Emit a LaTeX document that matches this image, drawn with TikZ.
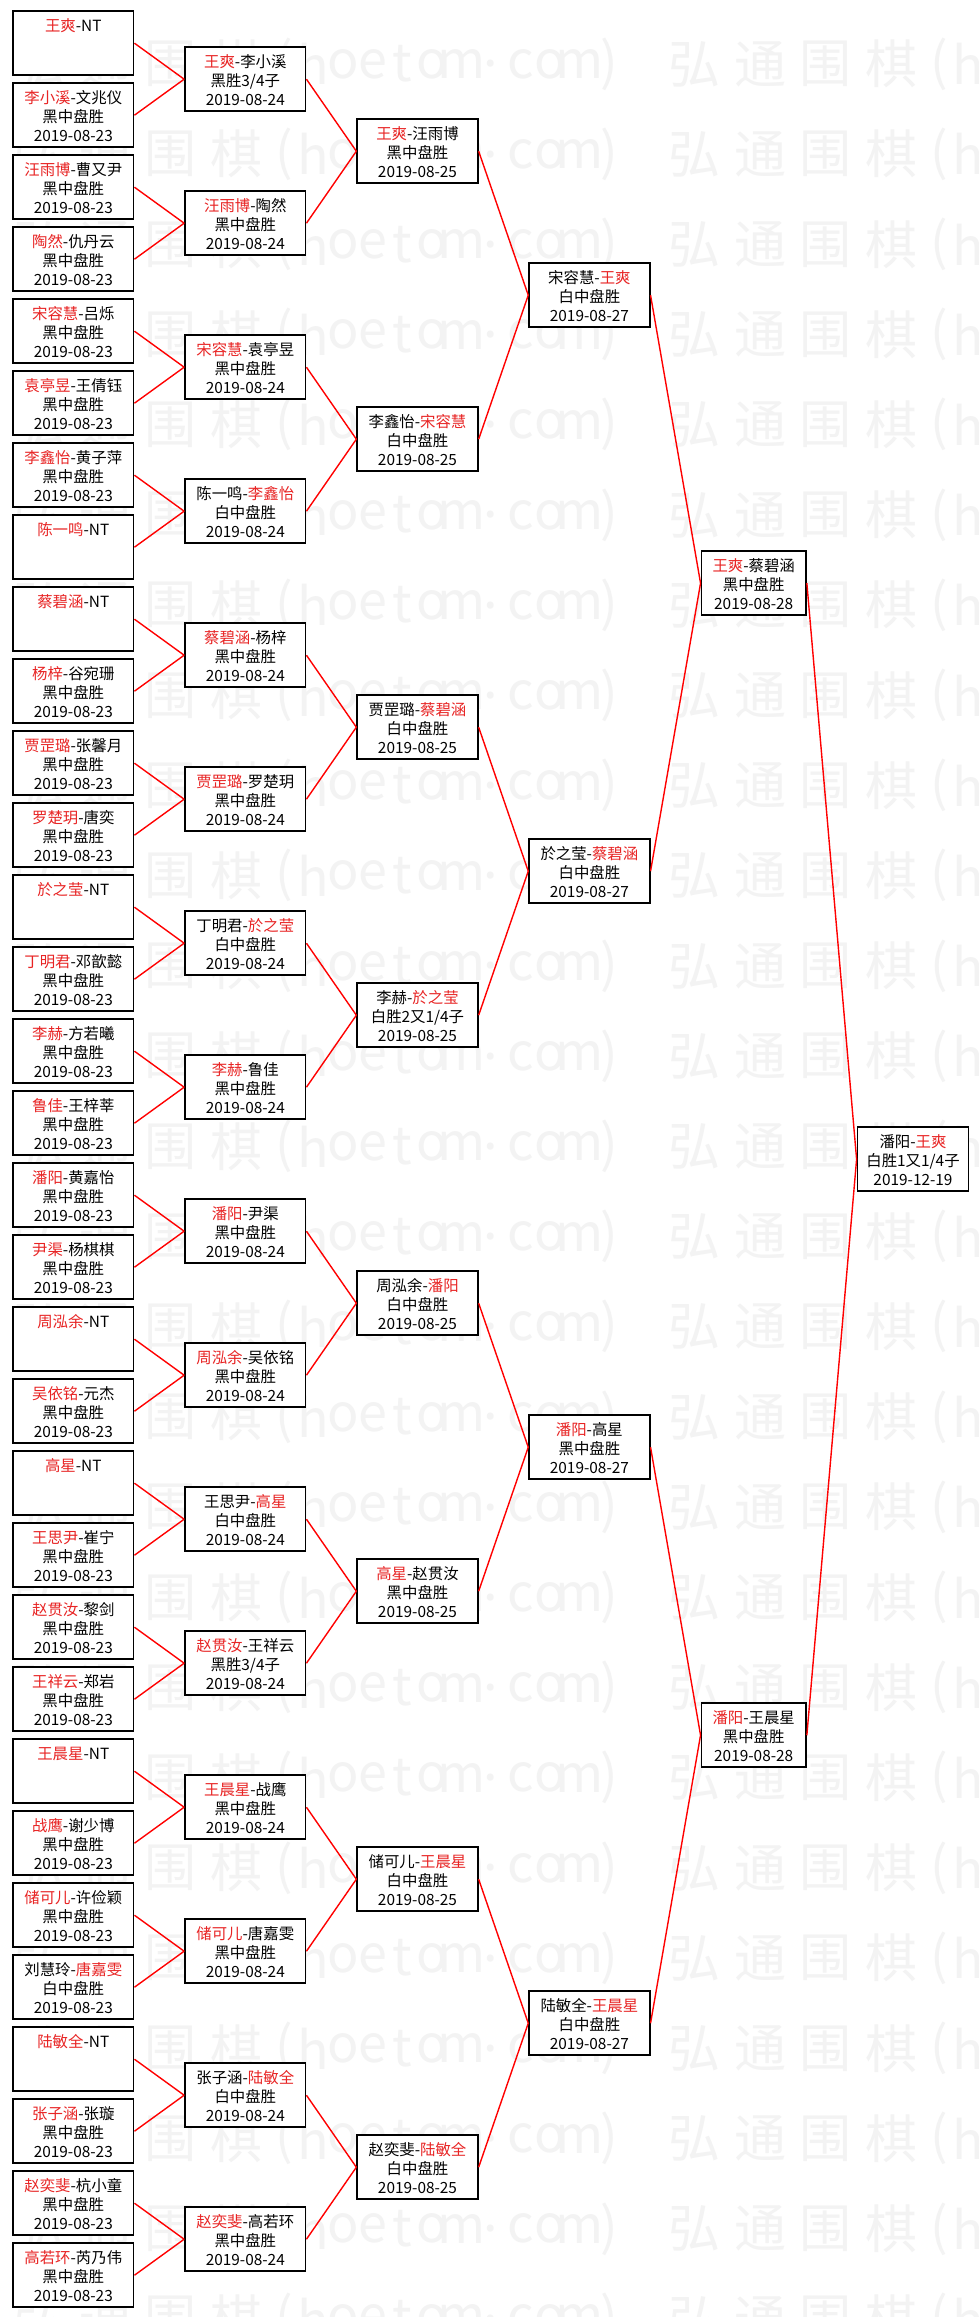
\documentclass[tikz,border=0pt]{standalone}
\usepackage{fontspec}
\setmainfont{Noto Sans CJK SC}
\newfontfamily\markfont{Noto Sans CJK SC}
\usepackage{tikz}

\definecolor{winred}{RGB}{232,36,36}
\definecolor{markgray}{RGB}{243,243,243}

\newcommand{\winner}[1]{\textcolor{winred}{#1}}
\newcommand{\game}[3]{\rule{0pt}{20pt}#1\\#2\\#3\strut}
\newcommand{\bye}[1]{\game{\winner{#1}-NT}{}{}}

\tikzset{
  game/.style={draw=black, line width=1.8pt, fill=white, minimum width=120.5pt,
    minimum height=64pt, inner sep=0pt, align=center,
    font=\fontsize{15.4}{18.7}\selectfont},
  link/.style={draw=red, line width=1.4pt},
  stamp/.style={text=markgray, inner sep=0pt, font=\markfont\fontsize{52}{52}\selectfont}
}

\begin{document}
\begin{tikzpicture}[x=1pt, y=-1pt]

\useasboundingbox (0,0) rectangle (979,2317);
\fill[white] (0,0) rectangle (979,2317);

% Watermark rows
\begin{scope}
\clip (0,0) rectangle (979,2317);
\foreach \row in {0,...,25} {
  \foreach \xs in {7,662} {
    \foreach \ch [count=\i from 0] in {弘,通,围,棋}
      \node[stamp] at (\xs+32.75+65.5*\i, 64+90.2*\row) {\ch};
    \foreach \ch [count=\j from 0] in {{(},h,o,e,t,o,m,{.},c,o,m,{)}}
      \node[stamp] at (\xs+276.8+29.6*\j, 64+90.2*\row) {\ch};
  }
}
\end{scope}

% Round 1
\node[game] (a1)  at (73.3,43.2)   {\bye{王爽}};
\node[game] (a2)  at (73.3,115.2)  {\game{\winner{李小溪}-文兆仪}{黑中盘胜}{2019-08-23}};
\node[game] (a3)  at (73.3,187.2)  {\game{\winner{汪雨博}-曹又尹}{黑中盘胜}{2019-08-23}};
\node[game] (a4)  at (73.3,259.2)  {\game{\winner{陶然}-仇丹云}{黑中盘胜}{2019-08-23}};
\node[game] (a5)  at (73.3,331.2)  {\game{\winner{宋容慧}-吕烁}{黑中盘胜}{2019-08-23}};
\node[game] (a6)  at (73.3,403.2)  {\game{\winner{袁亭昱}-王倩钰}{黑中盘胜}{2019-08-23}};
\node[game] (a7)  at (73.3,475.2)  {\game{\winner{李鑫怡}-黄子萍}{黑中盘胜}{2019-08-23}};
\node[game] (a8)  at (73.3,547.2)  {\bye{陈一鸣}};
\node[game] (a9)  at (73.3,619.2)  {\bye{蔡碧涵}};
\node[game] (a10) at (73.3,691.2)  {\game{\winner{杨梓}-谷宛珊}{黑中盘胜}{2019-08-23}};
\node[game] (a11) at (73.3,763.2)  {\game{\winner{贾罡璐}-张馨月}{黑中盘胜}{2019-08-23}};
\node[game] (a12) at (73.3,835.2)  {\game{\winner{罗楚玥}-唐奕}{黑中盘胜}{2019-08-23}};
\node[game] (a13) at (73.3,907.2)  {\bye{於之莹}};
\node[game] (a14) at (73.3,979.2)  {\game{\winner{丁明君}-邓歆懿}{黑中盘胜}{2019-08-23}};
\node[game] (a15) at (73.3,1051.2) {\game{\winner{李赫}-方若曦}{黑中盘胜}{2019-08-23}};
\node[game] (a16) at (73.3,1123.2) {\game{\winner{鲁佳}-王梓莘}{黑中盘胜}{2019-08-23}};
\node[game] (a17) at (73.3,1195.2) {\game{\winner{潘阳}-黄嘉怡}{黑中盘胜}{2019-08-23}};
\node[game] (a18) at (73.3,1267.2) {\game{\winner{尹渠}-杨棋棋}{黑中盘胜}{2019-08-23}};
\node[game] (a19) at (73.3,1339.2) {\bye{周泓余}};
\node[game] (a20) at (73.3,1411.2) {\game{\winner{吴依铭}-元杰}{黑中盘胜}{2019-08-23}};
\node[game] (a21) at (73.3,1483.2) {\bye{高星}};
\node[game] (a22) at (73.3,1555.2) {\game{\winner{王思尹}-崔宁}{黑中盘胜}{2019-08-23}};
\node[game] (a23) at (73.3,1627.2) {\game{\winner{赵贯汝}-黎剑}{黑中盘胜}{2019-08-23}};
\node[game] (a24) at (73.3,1699.2) {\game{\winner{王祥云}-郑岩}{黑中盘胜}{2019-08-23}};
\node[game] (a25) at (73.3,1771.2) {\bye{王晨星}};
\node[game] (a26) at (73.3,1843.2) {\game{\winner{战鹰}-谢少博}{黑中盘胜}{2019-08-23}};
\node[game] (a27) at (73.3,1915.2) {\game{\winner{储可儿}-许俭颖}{黑中盘胜}{2019-08-23}};
\node[game] (a28) at (73.3,1987.2) {\game{刘慧玲-\winner{唐嘉雯}}{白中盘胜}{2019-08-23}};
\node[game] (a29) at (73.3,2059.2) {\bye{陆敏全}};
\node[game] (a30) at (73.3,2131.2) {\game{\winner{张子涵}-张璇}{黑中盘胜}{2019-08-23}};
\node[game] (a31) at (73.3,2203.2) {\game{\winner{赵奕斐}-杭小童}{黑中盘胜}{2019-08-23}};
\node[game] (a32) at (73.3,2275.2) {\game{\winner{高若环}-芮乃伟}{黑中盘胜}{2019-08-23}};

% Round 2
\node[game] (b1)  at (245.3,79.2)   {\game{\winner{王爽}-李小溪}{黑胜3/4子}{2019-08-24}};
\node[game] (b2)  at (245.3,223.2)  {\game{\winner{汪雨博}-陶然}{黑中盘胜}{2019-08-24}};
\node[game] (b3)  at (245.3,367.2)  {\game{\winner{宋容慧}-袁亭昱}{黑中盘胜}{2019-08-24}};
\node[game] (b4)  at (245.3,511.2)  {\game{陈一鸣-\winner{李鑫怡}}{白中盘胜}{2019-08-24}};
\node[game] (b5)  at (245.3,655.2)  {\game{\winner{蔡碧涵}-杨梓}{黑中盘胜}{2019-08-24}};
\node[game] (b6)  at (245.3,799.2)  {\game{\winner{贾罡璐}-罗楚玥}{黑中盘胜}{2019-08-24}};
\node[game] (b7)  at (245.3,943.2)  {\game{丁明君-\winner{於之莹}}{白中盘胜}{2019-08-24}};
\node[game] (b8)  at (245.3,1087.2) {\game{\winner{李赫}-鲁佳}{黑中盘胜}{2019-08-24}};
\node[game] (b9)  at (245.3,1231.2) {\game{\winner{潘阳}-尹渠}{黑中盘胜}{2019-08-24}};
\node[game] (b10) at (245.3,1375.2) {\game{\winner{周泓余}-吴依铭}{黑中盘胜}{2019-08-24}};
\node[game] (b11) at (245.3,1519.2) {\game{王思尹-\winner{高星}}{白中盘胜}{2019-08-24}};
\node[game] (b12) at (245.3,1663.2) {\game{\winner{赵贯汝}-王祥云}{黑胜3/4子}{2019-08-24}};
\node[game] (b13) at (245.3,1807.2) {\game{\winner{王晨星}-战鹰}{黑中盘胜}{2019-08-24}};
\node[game] (b14) at (245.3,1951.2) {\game{\winner{储可儿}-唐嘉雯}{黑中盘胜}{2019-08-24}};
\node[game] (b15) at (245.3,2095.2) {\game{张子涵-\winner{陆敏全}}{白中盘胜}{2019-08-24}};
\node[game] (b16) at (245.3,2239.2) {\game{\winner{赵奕斐}-高若环}{黑中盘胜}{2019-08-24}};

% Round 3
\node[game] (c1) at (417.5,151.2)  {\game{\winner{王爽}-汪雨博}{黑中盘胜}{2019-08-25}};
\node[game] (c2) at (417.5,439.2)  {\game{李鑫怡-\winner{宋容慧}}{白中盘胜}{2019-08-25}};
\node[game] (c3) at (417.5,727.2)  {\game{贾罡璐-\winner{蔡碧涵}}{白中盘胜}{2019-08-25}};
\node[game] (c4) at (417.5,1015.2) {\game{李赫-\winner{於之莹}}{白胜2又1/4子}{2019-08-25}};
\node[game] (c5) at (417.5,1303.2) {\game{周泓余-\winner{潘阳}}{白中盘胜}{2019-08-25}};
\node[game] (c6) at (417.5,1591.2) {\game{\winner{高星}-赵贯汝}{黑中盘胜}{2019-08-25}};
\node[game] (c7) at (417.5,1879.2) {\game{储可儿-\winner{王晨星}}{白中盘胜}{2019-08-25}};
\node[game] (c8) at (417.5,2167.2) {\game{赵奕斐-\winner{陆敏全}}{白中盘胜}{2019-08-25}};

% Round 4
\node[game] (d1) at (589.4,295.2)  {\game{宋容慧-\winner{王爽}}{白中盘胜}{2019-08-27}};
\node[game] (d2) at (589.4,871.2)  {\game{於之莹-\winner{蔡碧涵}}{白中盘胜}{2019-08-27}};
\node[game] (d3) at (589.4,1447.2) {\game{\winner{潘阳}-高星}{黑中盘胜}{2019-08-27}};
\node[game] (d4) at (589.4,2023.2) {\game{陆敏全-\winner{王晨星}}{白中盘胜}{2019-08-27}};

% Semi-finals
\node[game, minimum width=104.5pt] (e1) at (753.7,583.2)  {\game{\winner{王爽}-蔡碧涵}{黑中盘胜}{2019-08-28}};
\node[game, minimum width=104.5pt] (e2) at (753.7,1735.2) {\game{\winner{潘阳}-王晨星}{黑中盘胜}{2019-08-28}};

% Final
\node[game, minimum width=111pt] (f1) at (913,1159.2) {\game{潘阳-\winner{王爽}}{白胜1又1/4子}{2019-12-19}};

% Round 1 -> Round 2
\draw[link] (a1.east) -- (b1.west) (a2.east) -- (b1.west);
\draw[link] (a3.east) -- (b2.west) (a4.east) -- (b2.west);
\draw[link] (a5.east) -- (b3.west) (a6.east) -- (b3.west);
\draw[link] (a7.east) -- (b4.west) (a8.east) -- (b4.west);
\draw[link] (a9.east) -- (b5.west) (a10.east) -- (b5.west);
\draw[link] (a11.east) -- (b6.west) (a12.east) -- (b6.west);
\draw[link] (a13.east) -- (b7.west) (a14.east) -- (b7.west);
\draw[link] (a15.east) -- (b8.west) (a16.east) -- (b8.west);
\draw[link] (a17.east) -- (b9.west) (a18.east) -- (b9.west);
\draw[link] (a19.east) -- (b10.west) (a20.east) -- (b10.west);
\draw[link] (a21.east) -- (b11.west) (a22.east) -- (b11.west);
\draw[link] (a23.east) -- (b12.west) (a24.east) -- (b12.west);
\draw[link] (a25.east) -- (b13.west) (a26.east) -- (b13.west);
\draw[link] (a27.east) -- (b14.west) (a28.east) -- (b14.west);
\draw[link] (a29.east) -- (b15.west) (a30.east) -- (b15.west);
\draw[link] (a31.east) -- (b16.west) (a32.east) -- (b16.west);

% Round 2 -> Round 3
\draw[link] (b1.east) -- (c1.west) (b2.east) -- (c1.west);
\draw[link] (b3.east) -- (c2.west) (b4.east) -- (c2.west);
\draw[link] (b5.east) -- (c3.west) (b6.east) -- (c3.west);
\draw[link] (b7.east) -- (c4.west) (b8.east) -- (c4.west);
\draw[link] (b9.east) -- (c5.west) (b10.east) -- (c5.west);
\draw[link] (b11.east) -- (c6.west) (b12.east) -- (c6.west);
\draw[link] (b13.east) -- (c7.west) (b14.east) -- (c7.west);
\draw[link] (b15.east) -- (c8.west) (b16.east) -- (c8.west);

% Round 3 -> Round 4
\draw[link] (c1.east) -- (d1.west) (c2.east) -- (d1.west);
\draw[link] (c3.east) -- (d2.west) (c4.east) -- (d2.west);
\draw[link] (c5.east) -- (d3.west) (c6.east) -- (d3.west);
\draw[link] (c7.east) -- (d4.west) (c8.east) -- (d4.west);

% Round 4 -> Semi-finals -> Final
\draw[link] (d1.east) -- (e1.west) (d2.east) -- (e1.west);
\draw[link] (d3.east) -- (e2.west) (d4.east) -- (e2.west);
\draw[link] (e1.east) -- (f1.west) (e2.east) -- (f1.west);

\end{tikzpicture}
\end{document}
